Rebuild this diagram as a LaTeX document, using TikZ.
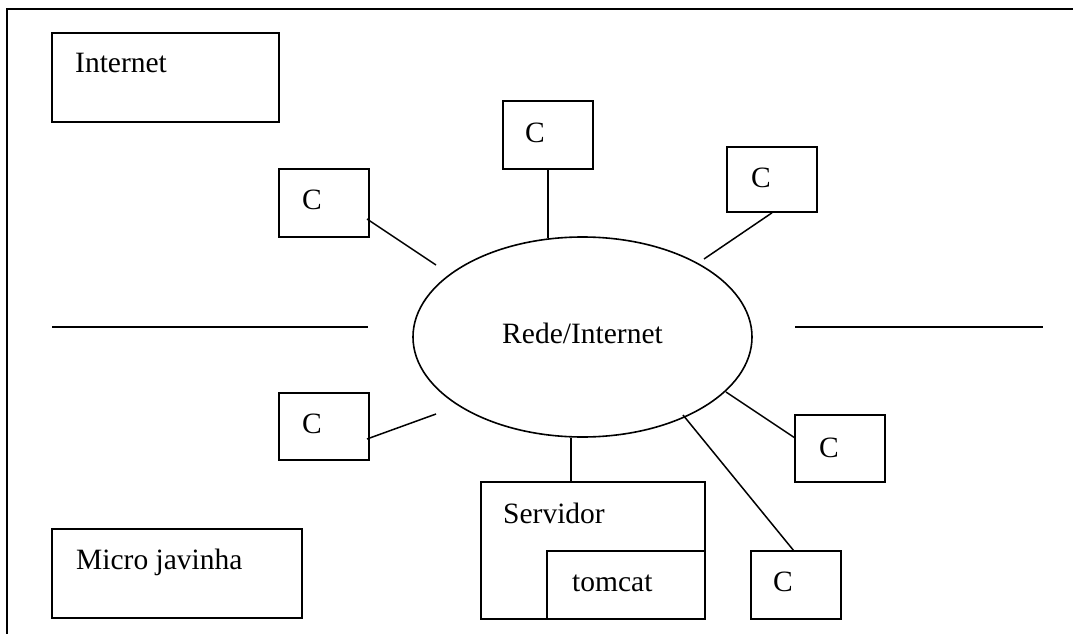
\documentclass[tikz,border=0pt]{standalone}
\usepackage{fontspec}
\setmainfont{Liberation Serif}
\usetikzlibrary{shapes.geometric}
\begin{document}
\begin{tikzpicture}[x=1pt,y=-1pt,
  box/.style={draw, line width=1.6pt, inner sep=0pt, rectangle},
  txt/.style={anchor=base west, inner sep=0pt, font=\fontsize{29.5}{34}\selectfont},
  conn/.style={line width=1.5pt},
  rule/.style={line width=2pt},
  frame/.style={line width=2.4pt}]
\useasboundingbox (0,0) rectangle (1073,634);
% outer frame (open at right and bottom)
\coordinate (fr1) at (1073,9);
\coordinate (fr2) at (7,9);
\coordinate (fr3) at (7,634);
\draw[frame] (fr1) -- (fr2) -- (fr3);

% boxes
\node[box, minimum width=227pt, minimum height=89pt] (inet) at (165.5,77.5) {};
\node[txt] (inett) at (75,73) {Internet};
\node[box, minimum width=250pt, minimum height=89pt] (micro) at (177,573.5) {};
\node[txt] (microt) at (76,569) {Micro javinha};

\node[box, minimum width=90pt, minimum height=68pt] (c1) at (324,203) {};
\node[txt] (c1t) at (302,209) {C};
\node[box, minimum width=90pt, minimum height=68pt] (c2) at (548,135) {};
\node[txt] (c2t) at (525,142) {C};
\node[box, minimum width=90pt, minimum height=65pt] (c3) at (772,179.5) {};
\node[txt] (c3t) at (751,187) {C};
\node[box, minimum width=90pt, minimum height=67pt] (c4) at (324,426.5) {};
\node[txt] (c4t) at (302,433) {C};
\node[box, minimum width=90pt, minimum height=67pt] (c5) at (840,448.5) {};
\node[txt] (c5t) at (819,457) {C};
\node[box, minimum width=90pt, minimum height=68pt] (c6) at (796,585) {};
\node[txt] (c6t) at (773,591) {C};

\node[box, minimum width=224pt, minimum height=137pt] (serv) at (593,550.5) {};
\node[txt] (servt) at (503,523) {Servidor};
\node[box, minimum width=158pt, minimum height=68pt] (tom) at (626,585) {};
\node[txt] (tomt) at (572,591) {tomcat};

% ellipse
\node[draw, ellipse, line width=1.6pt, inner sep=0pt, minimum width=339pt, minimum height=200pt] (net) at (582.5,337) {};
\node[anchor=base, inner sep=0pt, font=\fontsize{29.5}{34}\selectfont] (nett) at (582.5,343) {Rede/Internet};

% connector end points
\coordinate (a1) at (367,219);  \coordinate (b1) at (436,265);
\coordinate (b2) at (548,238);
\coordinate (b3) at (704,259);
\coordinate (a4) at (367,439);  \coordinate (b4) at (436,414);
\coordinate (b5) at (726,392);  \coordinate (a5) at (795,438);
\coordinate (b6) at (683,415);  \coordinate (a6) at (794,551);
\coordinate (b7) at (571,438);  \coordinate (a7) at (571,482);

\draw[conn] (a1) -- (b1);
\draw[conn] (c2.south) -- (b2);
\draw[conn] (c3.south) -- (b3);
\draw[conn] (a4) -- (b4);
\draw[conn] (b5) -- (a5);
\draw[conn] (b6) -- (a6);
\draw[conn] (b7) -- (a7);

% horizontal rules
\coordinate (hl1) at (52,327);  \coordinate (hl2) at (368,327);
\coordinate (hr1) at (795,327); \coordinate (hr2) at (1043,327);
\draw[rule] (hl1) -- (hl2);
\draw[rule] (hr1) -- (hr2);
\end{tikzpicture}
\end{document}
